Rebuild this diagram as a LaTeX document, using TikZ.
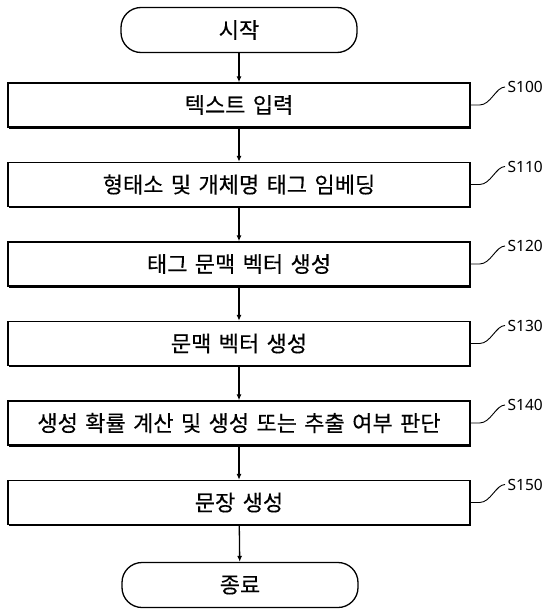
\documentclass[tikz,border=0pt]{standalone}
\usepackage{fontspec}
\setmainfont{Noto Sans CJK KR}[WordSpace=1.5,FakeBold=0.3]
\newfontfamily\lblfont{Noto Sans}
\usetikzlibrary{arrows.meta}

\begin{document}
\begin{tikzpicture}[x=1pt,y=-1pt,>={Latex[length=6pt,width=5pt]},line width=1.3pt,
  stepbox/.style={draw,fill=white,minimum width=462pt,minimum height=44pt,inner sep=0pt,
    font=\fontsize{22}{24}\selectfont,
    preaction={fill=black,transform canvas={shift={(1.1pt,-1.5pt)}}}},
  term/.style={draw,fill=white,rounded corners=20pt,minimum width=236pt,minimum height=45pt,
    inner sep=0pt,font=\fontsize{22}{24}\selectfont},
  steplbl/.style={anchor=west,inner sep=2pt,font=\lblfont\fontsize{15.5}{17}\selectfont},
  leader/.style={line width=.9pt}]
\useasboundingbox (0,0) rectangle (550,613);
% start / end
\node[term] (st) at (239,30) {시작};
\node[term] (en) at (240,585) {종료};
% steps
\node[stepbox] (b100) at (239,105) {텍스트 입력};
\node[stepbox] (b110) at (239,184.5) {형태소 및 개체명 태그 임베딩};
\node[stepbox] (b120) at (239,264) {태그 문맥 벡터 생성};
\node[stepbox] (b130) at (239,343.5) {문맥 벡터 생성};
\node[stepbox] (b140) at (239,423) {생성 확률 계산 및 생성 또는 추출 여부 판단};
\node[stepbox] (b150) at (239,502.5) {문장 생성};
% step numbers
\node[steplbl] (l100) at (505,87) {S100};
\node[steplbl] (l110) at (505,166.5) {S110};
\node[steplbl] (l120) at (505,246) {S120};
\node[steplbl] (l130) at (505,325.5) {S130};
\node[steplbl] (l140) at (505,405) {S140};
\node[steplbl] (l150) at (505,484.5) {S150};
% flow
\draw[->] (st) -- (b100);
\draw[->] (b100) -- (b110);
\draw[->] (b110) -- (b120);
\draw[->] (b120) -- (b130);
\draw[->] (b130) -- (b140);
\draw[->] (b140) -- (b150);
\draw[->] (b150) -- (en);
% leaders
\draw[leader] (b100.east) -- ++(9,0) .. controls +(11,0) and +(-9,0) .. (l100.west);
\draw[leader] (b110.east) -- ++(9,0) .. controls +(11,0) and +(-9,0) .. (l110.west);
\draw[leader] (b120.east) -- ++(9,0) .. controls +(11,0) and +(-9,0) .. (l120.west);
\draw[leader] (b130.east) -- ++(9,0) .. controls +(11,0) and +(-9,0) .. (l130.west);
\draw[leader] (b140.east) -- ++(9,0) .. controls +(11,0) and +(-9,0) .. (l140.west);
\draw[leader] (b150.east) -- ++(9,0) .. controls +(11,0) and +(-9,0) .. (l150.west);
\end{tikzpicture}
\end{document}
